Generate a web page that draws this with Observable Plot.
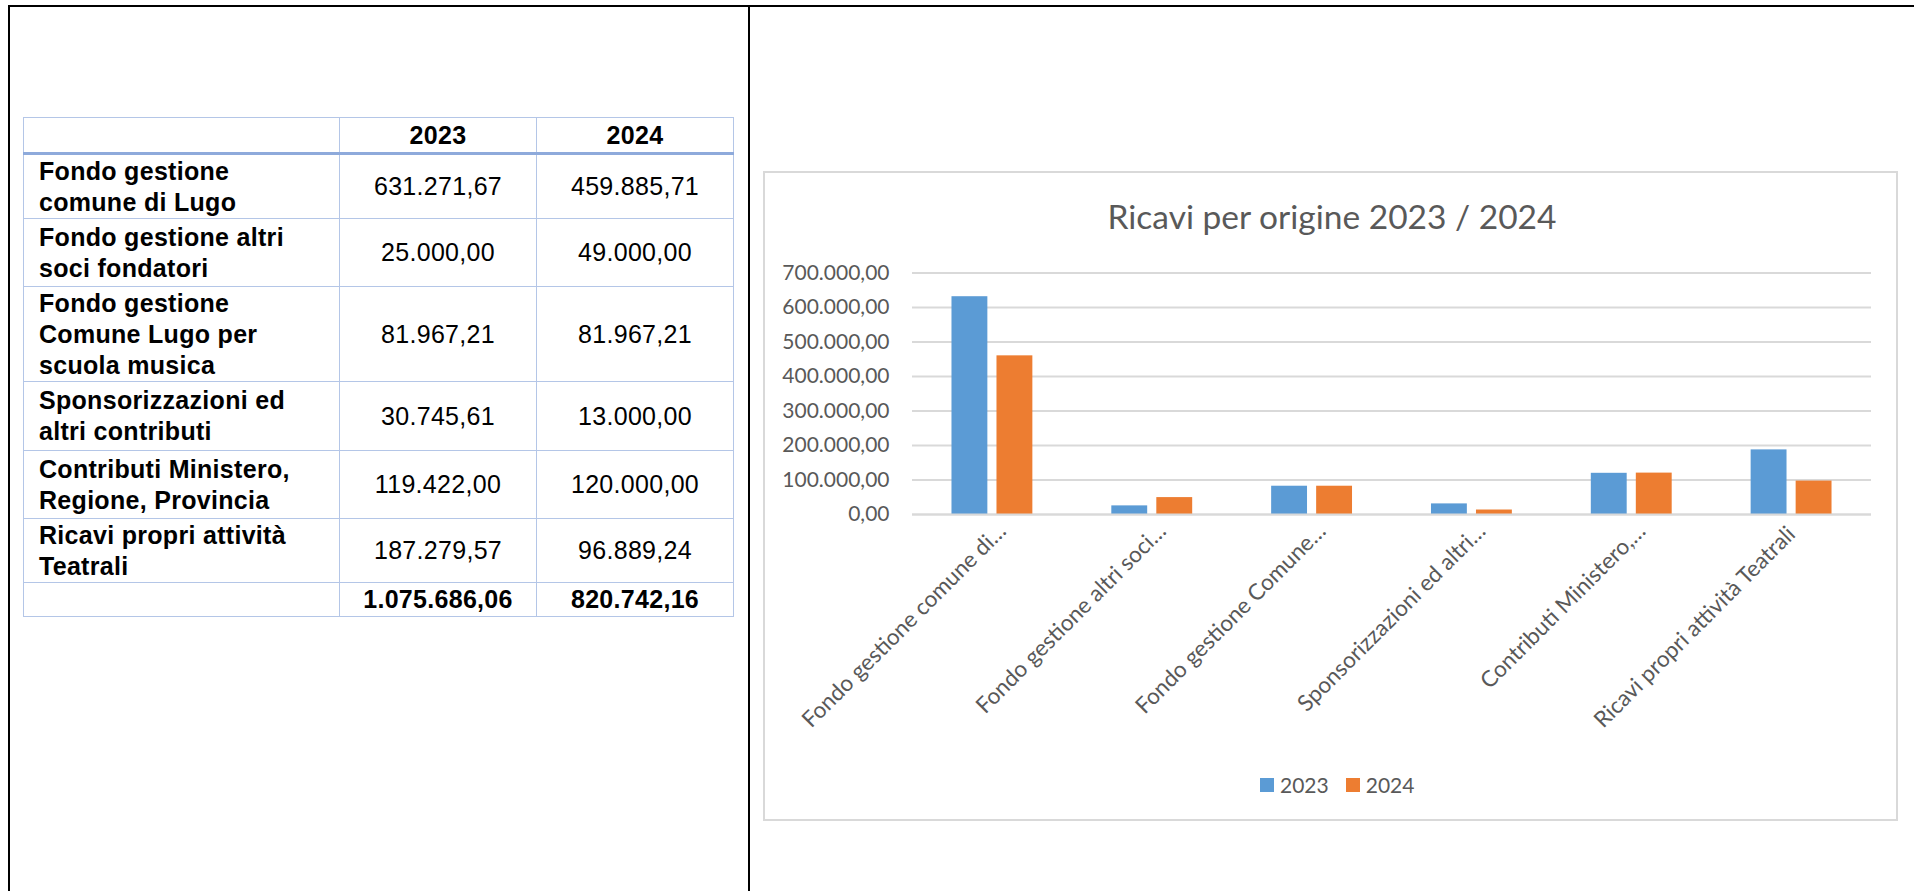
<!DOCTYPE html>
<html>
<head>
<meta charset="utf-8">
<script src="https://cdn.jsdelivr.net/npm/d3@7"></script>
<script src="https://cdn.jsdelivr.net/npm/@observablehq/plot@0.6"></script>
<style>
  html, body { margin: 0; padding: 0; background: #fff; }
  body { width: 1914px; height: 891px; position: relative; overflow: hidden; }
  .line { position: absolute; background: #000; }
  #tbl { position: absolute; left: 23px; top: 117px; border-collapse: collapse;
         font-family: "Liberation Sans", Arial, sans-serif; font-size: 25px; color: #000; letter-spacing: 0.3px; }
  #tbl td { border: 1.5px solid #b4c6e7; padding: 0; }
  #tbl td.lab { font-weight: bold; text-align: left; padding-left: 15px; white-space: pre-line; line-height: 31px; vertical-align: middle; }
  #tbl td.num { text-align: center; vertical-align: middle; }
  #tbl tr.head td { border-bottom: 3px solid #8eaadb; font-weight: bold; text-align: center; }
  #tbl tr.tot td.num { font-weight: bold; }
  #box { position: absolute; left: 763px; top: 171px; width: 1135px; height: 650px; border: 2px solid #d9d9d9; box-sizing: border-box; }
  #chart { position: absolute; left: 764px; top: 172px; }
  #title { position: absolute; left: 764px; width: 1136px; top: 196px; text-align: center;
           font-family: Lato, sans-serif; font-size: 33.5px; color: #595959; line-height: 40px; }
  #legend { position: absolute; top: 772px; left: 1260px; font-family: Lato, sans-serif; font-size: 21px; color: #595959; display: flex; align-items: center; line-height: 26px; }
  #legend .sw { width: 14px; height: 14px; display: inline-block; margin-right: 6px; }
  #legend .it { display: flex; align-items: center; margin-right: 17px; }
</style>
</head>
<body>
<div class="line" style="left:8px; top:5px; width:1906px; height:2px;"></div>
<div class="line" style="left:8px; top:5px; width:2px; height:886px;"></div>
<div class="line" style="left:748px; top:5px; width:2px; height:886px;"></div>

<table id="tbl"></table>

<div id="box"></div>
<div id="title">Ricavi per origine 2023 / 2024</div>
<div id="chart"></div>
<div id="legend"></div>

<script>
// ---- data ----
const categories = [
  "Fondo gestione comune di Lugo",
  "Fondo gestione altri soci fondatori",
  "Fondo gestione Comune Lugo per scuola musica",
  "Sponsorizzazioni ed altri contributi",
  "Contributi Ministero, Regione, Provincia",
  "Ricavi propri attività Teatrali"
];
const tableLabels = [
  "Fondo gestione\ncomune di Lugo",
  "Fondo gestione altri\nsoci fondatori",
  "Fondo gestione\nComune Lugo per\nscuola musica",
  "Sponsorizzazioni ed\naltri contributi",
  "Contributi Ministero,\nRegione, Provincia",
  "Ricavi propri attività\nTeatrali"
];
const axisLabels = [
  "Fondo gestione comune di…",
  "Fondo gestione altri soci…",
  "Fondo gestione Comune…",
  "Sponsorizzazioni ed altri…",
  "Contributi Ministero,…",
  "Ricavi propri attività Teatrali"
];
const years = ["2023", "2024"];
const values2023 = [631271.67, 25000.00, 81967.21, 30745.61, 119422.00, 187279.57];
const values2024 = [459885.71, 49000.00, 81967.21, 13000.00, 120000.00, 96889.24];
const yTicks = [0, 100000, 200000, 300000, 400000, 500000, 600000, 700000];
const colors = ["#5B9BD5", "#ED7D31"];

// ---- formatting ----
const it = d3.formatLocale({decimal: ",", thousands: ".", grouping: [3], currency: ["", " €"]});
const fmt = it.format(",.2f");

// ---- table ----
const rowHeights = [36, 65, 68, 95, 69, 68, 64, 34];
const tbl = document.getElementById("tbl");
const colW = [315, 196, 196];
let html = `<tr class="head" style="height:${rowHeights[0]}px"><td style="width:${colW[0]}px"></td><td style="width:${colW[1]}px">${years[0]}</td><td style="width:${colW[2]}px">${years[1]}</td></tr>`;
tableLabels.forEach((lab, i) => {
  html += `<tr style="height:${rowHeights[i+1]}px"><td class="lab">${lab}</td><td class="num">${fmt(values2023[i])}</td><td class="num">${fmt(values2024[i])}</td></tr>`;
});
const tot23 = d3.sum(values2023), tot24 = d3.sum(values2024);
html += `<tr class="tot" style="height:${rowHeights[7]}px"><td class="lab"></td><td class="num">${fmt(tot23)}</td><td class="num">${fmt(tot24)}</td></tr>`;
tbl.innerHTML = html;

// ---- chart ----
const d23 = categories.map((c, i) => ({cat: c, value: values2023[i]}));
const d24 = categories.map((c, i) => ({cat: c, value: values2024[i]}));
const shortOf = new Map(categories.map((c, i) => [c, axisLabels[i]]));
const truncated = categories.filter((c, i) => axisLabels[i].endsWith("…"));
const full = categories.filter((c, i) => !axisLabels[i].endsWith("…"));
const xAxisStyle = {tickFormat: d => shortOf.get(d), tickRotate: -45, tickSize: 0, tickPadding: 18, fontSize: 22.5, fill: "#595959", label: null};

const chart = Plot.plot({
  width: 1136,
  height: 651,
  marginLeft: 148,
  marginRight: 29,
  marginTop: 100.5,
  marginBottom: 309,
  style: {fontFamily: "Lato, sans-serif", background: "transparent", overflow: "visible"},
  x: {domain: categories, paddingInner: 0.494, paddingOuter: 0.247, round: false, label: null},
  y: {domain: [0, 700000], label: null},
  marks: [
    Plot.ruleY(yTicks, {stroke: "#d9d9d9", strokeWidth: 2}),
    Plot.barY(d23, {x: "cat", y: "value", fill: colors[0], insetRight: 45}),
    Plot.barY(d24, {x: "cat", y: "value", fill: colors[1], insetLeft: 45}),
    Plot.ruleY([0], {stroke: "#d9d9d9", strokeWidth: 2}),
    Plot.axisY({ticks: yTicks, tickFormat: fmt, tickSize: 0, tickPadding: 23, fontSize: 21, fill: "#595959", label: null}),
    Plot.axisX({...xAxisStyle, ticks: truncated, dx: 10, dy: -5}),
    Plot.axisX({...xAxisStyle, ticks: full, dy: -2})
  ]
});
document.getElementById("chart").appendChild(chart);

// ---- legend ----
const leg = document.getElementById("legend");
years.forEach((y, i) => {
  const d = document.createElement("div");
  d.className = "it";
  d.innerHTML = `<span class="sw" style="background:${colors[i]}"></span><span>${y}</span>`;
  leg.appendChild(d);
});
</script>
</body>
</html>
